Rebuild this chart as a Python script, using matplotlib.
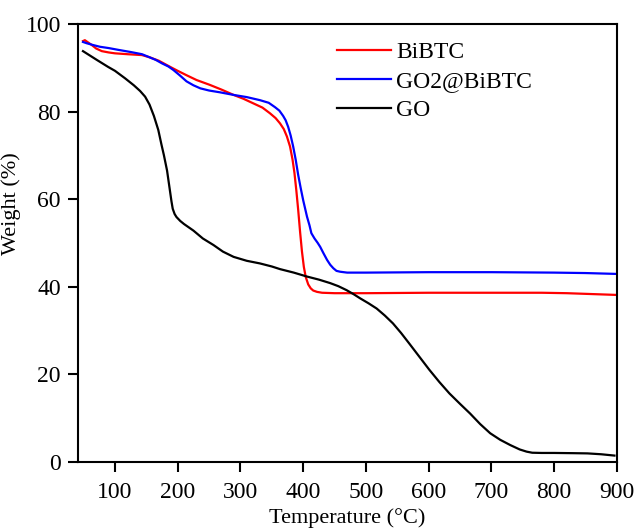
import matplotlib
matplotlib.use("Agg")
import matplotlib.pyplot as plt

plt.rcParams['font.family'] = ['Liberation Serif', 'DejaVu Serif']

# TGA curves, weight (%) vs temperature (°C)
t_bibtc = [49, 52, 56, 63, 70, 79, 90, 100, 120, 143, 155, 170, 188, 200, 214, 230,
           251, 270, 289, 305, 320, 335, 347, 356, 363, 369, 374, 379, 383, 386,
           389, 392, 395, 398, 401, 404, 408, 412, 416, 422, 430, 450, 500, 600,
           700, 780, 820, 860, 900]
w_bibtc = [96.1, 96.3, 95.9, 95.2, 94.4, 93.8, 93.5, 93.3, 93.1, 92.9, 92.4, 91.6,
           90.2, 89.3, 88.3, 87.2, 86.1, 85.0, 83.8, 82.9, 81.9, 80.9, 79.6, 78.5,
           77.3, 76.0, 74.3, 72.0, 69.0, 66.0, 62.0, 57.5, 52.5, 48.0, 44.5, 42.2,
           40.5, 39.6, 39.1, 38.8, 38.6, 38.5, 38.5, 38.6, 38.6, 38.6, 38.5, 38.3,
           38.1]

t_go2 = [49, 55, 65, 76, 90, 105, 125, 143, 155, 165, 175, 185, 193, 203, 214, 225,
         236, 250, 267, 289, 310, 331, 345, 355, 362, 368, 372, 376, 380, 384, 388,
         392, 396, 400, 406, 410, 413, 418, 423, 427, 432, 438, 443, 448, 453, 459,
         470, 500, 600, 700, 800, 850, 900]
w_go2 = [95.9, 95.6, 95.2, 94.8, 94.5, 94.1, 93.6, 93.1, 92.4, 91.8, 91.0, 90.3,
         89.5, 88.3, 86.9, 86.0, 85.3, 84.8, 84.4, 83.8, 83.3, 82.6, 82.0, 81.0,
         80.2, 79.0, 78.0, 76.5, 74.5, 72.0, 69.0, 65.5, 62.5, 59.7, 56.0, 54.0,
         52.2, 51.0, 50.0, 49.1, 47.7, 46.1, 45.0, 44.2, 43.6, 43.4, 43.2, 43.2,
         43.3, 43.3, 43.2, 43.1, 42.9]

t_go = [49, 60, 71, 80, 89, 100, 116, 130, 140, 148, 155, 162, 169, 174, 178, 183,
        186, 188, 190, 192, 195, 198, 204, 210, 225, 240, 257, 272, 289, 310, 331,
        350, 363, 385, 406, 425, 443, 456, 469, 480, 491, 504, 517, 530, 543, 556,
        569, 585, 601, 617, 633, 650, 666, 682, 698, 714, 730, 745, 756, 765, 780,
        800, 830, 853, 875, 896]
w_go = [93.8, 92.8, 91.8, 91.0, 90.2, 89.3, 87.6, 86.0, 84.7, 83.4, 81.6, 79.0,
        75.8, 72.5, 70.0, 66.5, 63.5, 61.5, 59.5, 57.8, 56.6, 55.9, 55.0, 54.3,
        52.8, 51.0, 49.5, 48.0, 46.8, 45.9, 45.3, 44.6, 44.0, 43.2, 42.3, 41.6,
        40.8, 40.1, 39.2, 38.3, 37.3, 36.2, 35.0, 33.4, 31.6, 29.4, 27.0, 24.0,
        21.0, 18.2, 15.6, 13.2, 11.0, 8.6, 6.5, 5.0, 3.8, 2.8, 2.3, 2.05, 2.0,
        2.0, 1.95, 1.9, 1.7, 1.4]

fig = plt.figure(figsize=(6.38, 5.31), dpi=100)
ax = fig.add_axes([0.1227, 0.1305, 0.8443, 0.8243])

ax.plot(t_bibtc, w_bibtc, color='#ff0000', lw=1.6, label='BiBTC')
ax.plot(t_go2, w_go2, color='#0000ff', lw=1.6, label='GO2@BiBTC')
ax.plot(t_go, w_go, color='black', lw=1.6, label='GO')

ax.set_xlim(41.5, 900)
ax.set_ylim(0, 100)
ax.set_xticks([100, 200, 300, 400, 500, 600, 700, 800, 900])
ax.set_yticks([0, 20, 40, 60, 80, 100])

for s in ax.spines.values():
    s.set_linewidth(1.5)
ax.tick_params(direction='out', length=7.5, width=1.5, labelsize=17, pad=5)
ax.tick_params(axis='x', pad=7)

ax.set_xlabel('Temperature (°C)', fontsize=16, labelpad=4)
ax.set_ylabel('Weight (%)', fontsize=16)
ax.yaxis.set_label_coords(-0.106, 0.589)

ax.legend(loc='upper left', bbox_to_anchor=(0.4626, 0.981), frameon=False,
          fontsize=17, handlelength=2.3, handletextpad=0.22, labelspacing=0.32,
          borderaxespad=0.0)

fig.savefig('out.png', dpi=100)
